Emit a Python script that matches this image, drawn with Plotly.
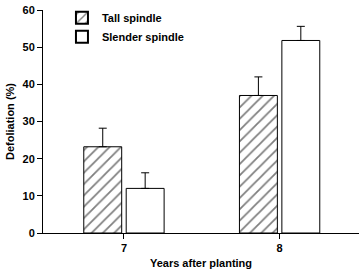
import plotly.graph_objects as go

years = [7, 8]
tall = [23.2, 37.0]
tall_err = [5.0, 5.0]
slender = [12.0, 51.8]
slender_err = [4.2, 3.8]

font_main = dict(family="Arial", size=11, color="black", weight="bold")

fig = go.Figure()
fig.add_trace(go.Bar(
    x=years, y=tall, name="Tall spindle",
    marker=dict(color="white", line=dict(color="black", width=1),
                pattern=dict(shape="/", fgcolor="black", bgcolor="white", size=8, solidity=0.22)),
    error_y=dict(type="data", symmetric=False, array=tall_err, arrayminus=[0, 0],
                 color="black", thickness=1, width=4),
))
fig.add_trace(go.Bar(
    x=years, y=slender, name="Slender spindle",
    marker=dict(color="white", line=dict(color="black", width=1)),
    error_y=dict(type="data", symmetric=False, array=slender_err, arrayminus=[0, 0],
                 color="black", thickness=1, width=4),
))

fig.update_layout(
    width=362, height=271,
    margin=dict(l=43, r=3, t=7, b=38),
    plot_bgcolor="white", paper_bgcolor="white",
    barmode="group", bargap=0.455, bargroupgap=0.106,
    font=font_main,
    showlegend=True,
    legend=dict(x=0.06, y=1.03, xanchor="left", yanchor="top",
                bgcolor="rgba(0,0,0,0)", font=dict(family="Arial", size=11, weight="bold"),
                itemsizing="constant", tracegroupgap=0),
)
fig.update_xaxes(
    range=[6.48, 8.51], tickvals=years, ticktext=[str(y) for y in years],
    showline=True, linecolor="black", linewidth=1,
    ticks="outside", ticklen=5, tickcolor="black", showgrid=False, zeroline=False,
    title=dict(text="Years after planting", font=dict(family="Arial", size=11, weight="bold"), standoff=6),
    tickfont=dict(family="Arial", size=11, weight="bold"),
)
fig.update_yaxes(
    range=[0, 60], tickvals=[0, 10, 20, 30, 40, 50, 60],
    showline=True, linecolor="black", linewidth=1,
    ticks="outside", ticklen=5, tickcolor="black", showgrid=False, zeroline=False,
    title=dict(text="Defoliation (%)", font=dict(family="Arial", size=11, weight="bold"), standoff=5),
    tickfont=dict(family="Arial", size=11, weight="bold"),
)

fig.write_html("out.html")
